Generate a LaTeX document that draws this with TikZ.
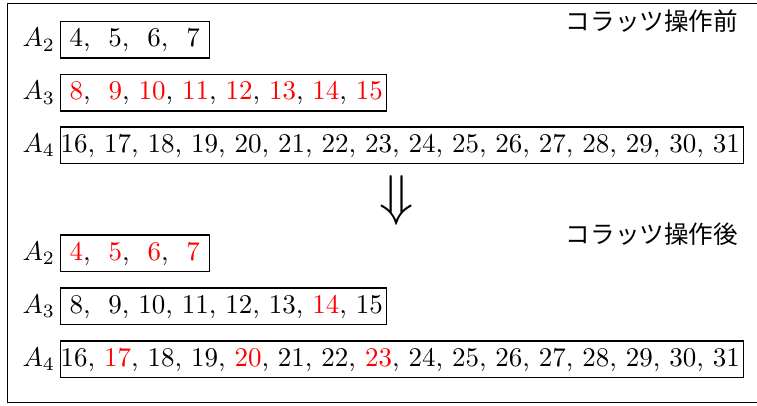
\documentclass[tikz,border=0pt]{standalone}
\usepackage{fontspec}
\newfontfamily\jp{Noto Sans CJK JP}
\usepackage{xcolor}
\newcommand{\R}[1]{\textcolor{red}{#1}}
\begin{document}
\begin{tikzpicture}[x=0.37037pt,y=-0.37037pt,
  frame/.style={draw, line width=0.45pt},
  seqbox/.style={draw, line width=0.4pt, inner sep=0pt, text height=9.44pt, text depth=4.07pt, anchor=base west},
  lab/.style={inner sep=0pt, anchor=base west},
  jptext/.style={inner sep=0pt, anchor=east, font=\jp\fontsize{9.1pt}{11pt}\selectfont},
  arrowglyph/.style={inner sep=0pt, font=\fontsize{19.2pt}{21pt}\selectfont}]
\useasboundingbox (0,0) rectangle (757,406);
\clip (0,0) rectangle (757,406);
\draw[frame] (7.5,3.3) rectangle (770,402.5);

\node[jptext] (t1) at (738.5,21.5) {コラッツ操作前};
\node[jptext] (t2) at (738.5,234) {コラッツ操作後};

% before
\node[lab] (l1) at (22,47) {$A_2$};
\node[seqbox] (b1) at (60,47) {\makebox[55.2pt][l]{\ 4, \ 5, \ 6, \ 7\ }};
\node[lab] (l2) at (22,100) {$A_3$};
\node[seqbox] (b2) at (60,100) {\makebox[120.7pt][l]{\ \R{8}, \ \R{9}, \R{10}, \R{11}, \R{12}, \R{13}, \R{14}, \R{15}}};
\node[lab] (l3) at (22,152.5) {$A_4$};
\node[seqbox] (b3) at (60,152.5) {\makebox[253pt][l]{16, 17, 18, 19, 20, 21, 22, 23, 24, 25, 26, 27, 28, 29, 30, 31}};

\node[arrowglyph] (arr) at (397,200.5) {$\Downarrow$};

% after
\node[lab] (l4) at (22,260.5) {$A_2$};
\node[seqbox] (b4) at (60,260.5) {\makebox[55.2pt][l]{\ \R{4}, \ \R{5}, \ \R{6}, \ \R{7}\ }};
\node[lab] (l5) at (22,313.5) {$A_3$};
\node[seqbox] (b5) at (60,313.5) {\makebox[120.7pt][l]{\ 8, \ 9, 10, 11, 12, 13, \R{14}, 15}};
\node[lab] (l6) at (22,366.5) {$A_4$};
\node[seqbox] (b6) at (60,366.5) {\makebox[253pt][l]{16, \R{17}, 18, 19, \R{20}, 21, 22, \R{23}, 24, 25, 26, 27, 28, 29, 30, 31}};
\end{tikzpicture}
\end{document}
